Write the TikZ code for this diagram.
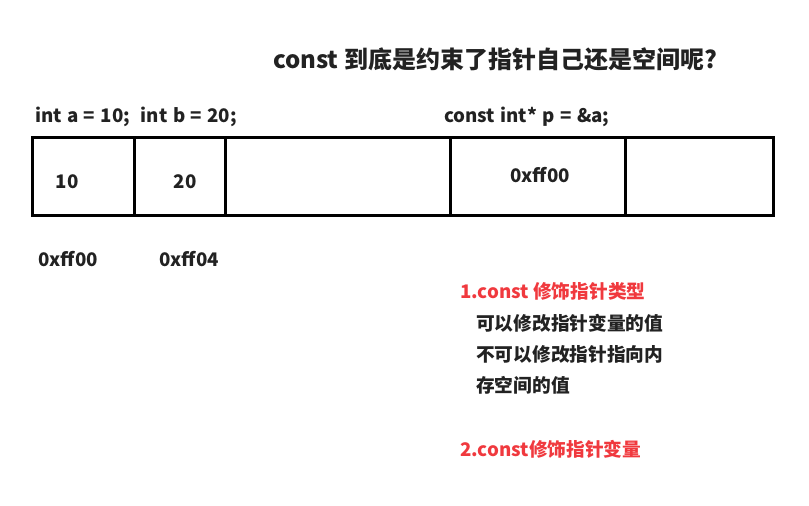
\documentclass[tikz,border=0pt]{standalone}
\usepackage{fontspec}
\setmainfont{Noto Sans CJK SC}
\usepackage{tikz}
\usetikzlibrary{positioning}
\definecolor{cRed}{HTML}{F0393E}
\definecolor{cInk}{HTML}{222222}

\begin{document}
\begin{tikzpicture}[x=1pt,y=-1pt,font=\bfseries\fontsize{18.7}{22}\selectfont,
      cell/.style={draw=black,line width=3pt,minimum height=78pt,inner sep=0pt},
      lbl/.style={text=cInk,anchor=west,inner sep=0pt},
      code/.style={lbl,execute at begin node={\spaceskip=.29em\relax}},
      note/.style={text=cRed,anchor=west,inner sep=0pt}]
    \useasboundingbox (0,0) rectangle (809,506);
    \node[text=cInk,font=\bfseries\fontsize{24}{28}\selectfont] (title) at (495,59)
      {const 到底是约束了指针自己还是空间呢?};
    % memory cells
    \node[cell,minimum width=102pt] (ca) at (83,176) {};
    \node[cell,minimum width=91pt] (cb) at (179.5,176) {};
    \node[cell,minimum width=225pt] (cc) at (337.5,176) {};
    \node[cell,minimum width=175pt] (cp) at (537.5,176) {};
    \node[cell,minimum width=148pt] (cd) at (699,176.5) {};
    \node[code] (decl) at (35,117) {int a = 10;\ \ int b = 20;};
    \node[code] (pdecl) at (444,117) {const int* p = \&a;};
    \node[text=cInk] (va) at (67,182) {10};
    \node[text=cInk] (vb) at (185,182) {20};
    \node[text=cInk] (vp) at (540,175) {0xff00};
    \node[lbl] (adra) at (38,259) {0xff00};
    \node[lbl] (adrb) at (159,259) {0xff04};
    % notes
    \node[note] (n1) at (460,291) {1.const 修饰指针类型};
    \node[lbl] (n1a) at (476,323) {可以修改指针变量的值};
    \node[lbl] (n1b) at (476,354) {不可以修改指针指向内};
    \node[lbl] (n1c) at (476,385) {存空间的值};
    \node[note] (n2) at (460,449) {2.const修饰指针变量};
  \end{tikzpicture}
\end{document}
